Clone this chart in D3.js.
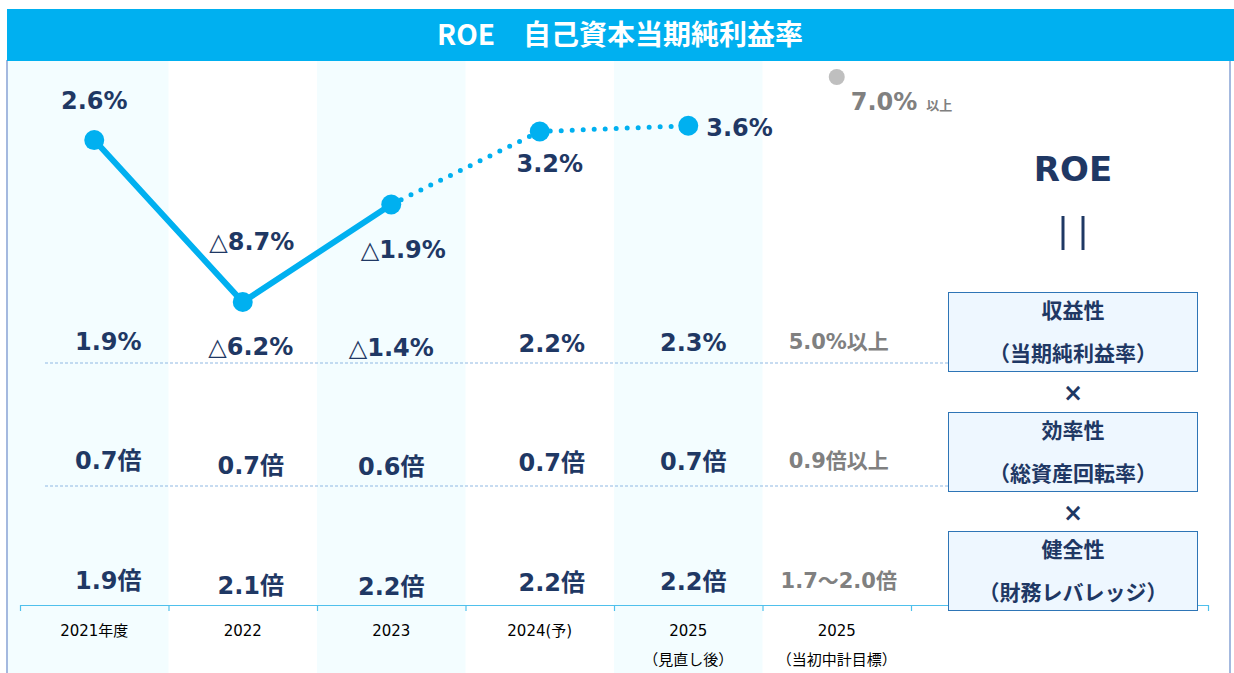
<!DOCTYPE html>
<html>
<head>
<meta charset="utf-8">
<script src="https://cdn.jsdelivr.net/npm/d3@7"></script>
<style>
  body { margin: 0; background: #fff; }
  svg text { font-family: "DejaVu Sans", "Noto Sans CJK JP", sans-serif; }
</style>
</head>
<body>
<svg id="chart" width="1234" height="673"></svg>
<script>
// data
const categories = ["2021年度", "2022", "2023", "2024(予)", "2025", "2025"];
const categorySub = ["", "", "", "", "（見直し後）", "（当初中計目標）"];
const roe = [2.6, -8.7, -1.9, 3.2, 3.6];
const roeTarget = 7.0;
const margin = [1.9, -6.2, -1.4, 2.2, 2.3];
const turnover = [0.7, 0.7, 0.6, 0.7, 0.7];
const leverage = [1.9, 2.1, 2.2, 2.2, 2.2];
const targetLabels = ["5.0%以上", "0.9倍以上", "1.7～2.0倍"];
const factors = [["収益性", "（当期純利益率）"], ["効率性", "（総資産回転率）"], ["健全性", "（財務レバレッジ）"]];

const navy = "#1F3864", blue = "#00B0F0", grey = "#808080";

const svg = d3.select("#chart");

// 8 slots: 6 years + 2 under the right panel
const x = d3.scaleLinear().domain([0, 8]).range([20, 1208]);
const cx = i => x(i + 0.5);
const y = d3.scaleLinear().domain([-8.7, 7.0]).range([302, 77]);

// column bands
svg.append("g").selectAll("rect")
  .data([0, 2, 4])
  .join("rect")
  .attr("x", i => i === 0 ? 8 : x(i))
  .attr("y", 61)
  .attr("width", i => x(i + 1) - (i === 0 ? 8 : x(i)))
  .attr("height", 612)
  .attr("fill", "#F3FDFF");

// frame
svg.append("line").attr("x1", 7).attr("x2", 7).attr("y1", 60).attr("y2", 673)
  .attr("stroke", "#A4B9DF").attr("stroke-width", 2);
svg.append("line").attr("x1", 1230).attr("x2", 1230).attr("y1", 60).attr("y2", 673)
  .attr("stroke", "#A4B9DF").attr("stroke-width", 2);

// title bar
svg.append("rect").attr("x", 7).attr("y", 9).attr("width", 1227).attr("height", 52).attr("fill", blue);
svg.append("text").attr("x", 620).attr("y", 45).attr("text-anchor", "middle")
  .attr("fill", "#fff").attr("font-size", 28).attr("font-weight", "bold")
  .style("font-family", "'Noto Sans CJK JP', sans-serif")
  .text("ROE　自己資本当期純利益率");

// x axis
const axis = svg.append("g").attr("transform", "translate(0,605)")
  .call(d3.axisBottom(x).tickValues(d3.range(9)).tickSize(6).tickSizeOuter(0).tickFormat(""));
axis.selectAll("path, line").attr("stroke", "#4FC0EC").attr("stroke-width", 1.2);

const labels = svg.append("g").attr("font-size", 15).attr("fill", "#000").attr("text-anchor", "middle");
labels.selectAll("text.cat").data(categories).join("text")
  .attr("class", "cat").attr("x", (d, i) => cx(i)).attr("y", 636).text(d => d);
labels.selectAll("text.sub").data(categorySub).join("text")
  .attr("class", "sub").attr("x", (d, i) => cx(i)).attr("y", 665).text(d => d);

// dashed separators
[363, 486].forEach(yy => {
  svg.append("line").attr("x1", 45).attr("x2", 948).attr("y1", yy).attr("y2", yy)
    .attr("stroke", "#8FB8E3").attr("stroke-width", 1).attr("stroke-dasharray", "3 2");
});

// ROE line
const pts = roe.map((v, i) => [cx(i), y(v)]);
const line = d3.line();
svg.append("path").attr("d", line(pts.slice(0, 3)))
  .attr("fill", "none").attr("stroke", blue).attr("stroke-width", 6);
svg.append("path").attr("d", line(pts.slice(2)))
  .attr("fill", "none").attr("stroke", blue).attr("stroke-width", 5)
  .attr("stroke-linecap", "round").attr("stroke-dasharray", "0 11");
svg.append("g").selectAll("circle").data(pts).join("circle")
  .attr("cx", d => d[0]).attr("cy", d => d[1]).attr("r", 10).attr("fill", blue);
svg.append("circle").attr("cx", cx(5)).attr("cy", y(roeTarget)).attr("r", 8).attr("fill", "#BFBFBF");

function valueText(sel, v, unit) {
  if (v < 0) {
    sel.append("tspan").attr("font-weight", "normal").text("△");
    sel.append("tspan").text(Math.abs(v).toFixed(1) + unit);
  } else {
    sel.text(v.toFixed(1) + unit);
  }
}

// ROE labels: offsets from each point
const roeLabelOffset = [[0, -40, "middle"], [9, -61, "middle"], [12, 44, "middle"], [10, 32, "middle"], [18, 1, "start"]];
roe.forEach((v, i) => {
  const o = roeLabelOffset[i];
  const t = svg.append("text").attr("x", pts[i][0] + o[0]).attr("y", pts[i][1] + o[1] + 9)
    .attr("text-anchor", o[2]).attr("font-size", 24).attr("font-weight", "bold").attr("fill", navy);
  valueText(t, v, "%");
});
svg.append("text").attr("x", cx(5) + 14).attr("y", y(roeTarget) + 33)
  .attr("font-size", 24).attr("font-weight", "bold").attr("fill", grey)
  .text(roeTarget.toFixed(1) + "%")
  .append("tspan").attr("dx", 9).attr("font-size", 13).text("以上");

// factor rows
const rows = [
  { vals: margin, unit: "%", base: 341 },
  { vals: turnover, unit: "倍", base: 460 },
  { vals: leverage, unit: "倍", base: 580 }
];
const nudgeX = [14, 8, 0, 12, 5];
const nudgeY = [0, 5, 6, 2, 1];
rows.forEach((r, ri) => {
  r.vals.forEach((v, i) => {
    const t = svg.append("text").attr("x", cx(i) + nudgeX[i]).attr("y", r.base + nudgeY[i] + 9)
      .attr("text-anchor", "middle").attr("font-size", 24).attr("font-weight", "bold").attr("fill", navy);
    valueText(t, v, r.unit);
  });
  svg.append("text").attr("x", cx(5) + 2).attr("y", r.base + 8)
    .attr("text-anchor", "middle").attr("font-size", 21).attr("font-weight", "bold").attr("fill", grey)
    .text(targetLabels[ri]);
});

// right panel
const px = 1073;
svg.append("text").attr("x", px).attr("y", 181).attr("text-anchor", "middle")
  .attr("font-size", 34).attr("font-weight", "bold").attr("fill", navy).text("ROE");
[-10, 10].forEach(dx => {
  svg.append("line").attr("x1", px + dx).attr("x2", px + dx).attr("y1", 216).attr("y2", 250)
    .attr("stroke", navy).attr("stroke-width", 3);
});
const boxTop = [292, 412, 531];
factors.forEach((f, i) => {
  svg.append("rect").attr("x", 948.5).attr("y", boxTop[i] + 0.5).attr("width", 249).attr("height", 79)
    .attr("fill", "#EEF7FF").attr("stroke", "#2E75B6").attr("stroke-width", 1);
  const g = svg.append("g").attr("text-anchor", "middle").attr("font-size", 21)
    .attr("font-weight", "bold").attr("fill", navy)
    .style("font-family", "'Noto Sans CJK JP', sans-serif");
  g.append("text").attr("x", px).attr("y", boxTop[i] + 26).text(f[0]);
  g.append("text").attr("x", px).attr("y", boxTop[i] + 69).text(f[1]);
  if (i < 2) {
    svg.append("text").attr("x", px).attr("y", boxTop[i] + 109).attr("text-anchor", "middle")
      .attr("font-size", 24).attr("font-weight", "bold").attr("fill", navy).text("×");
  }
});
</script>
</body>
</html>
